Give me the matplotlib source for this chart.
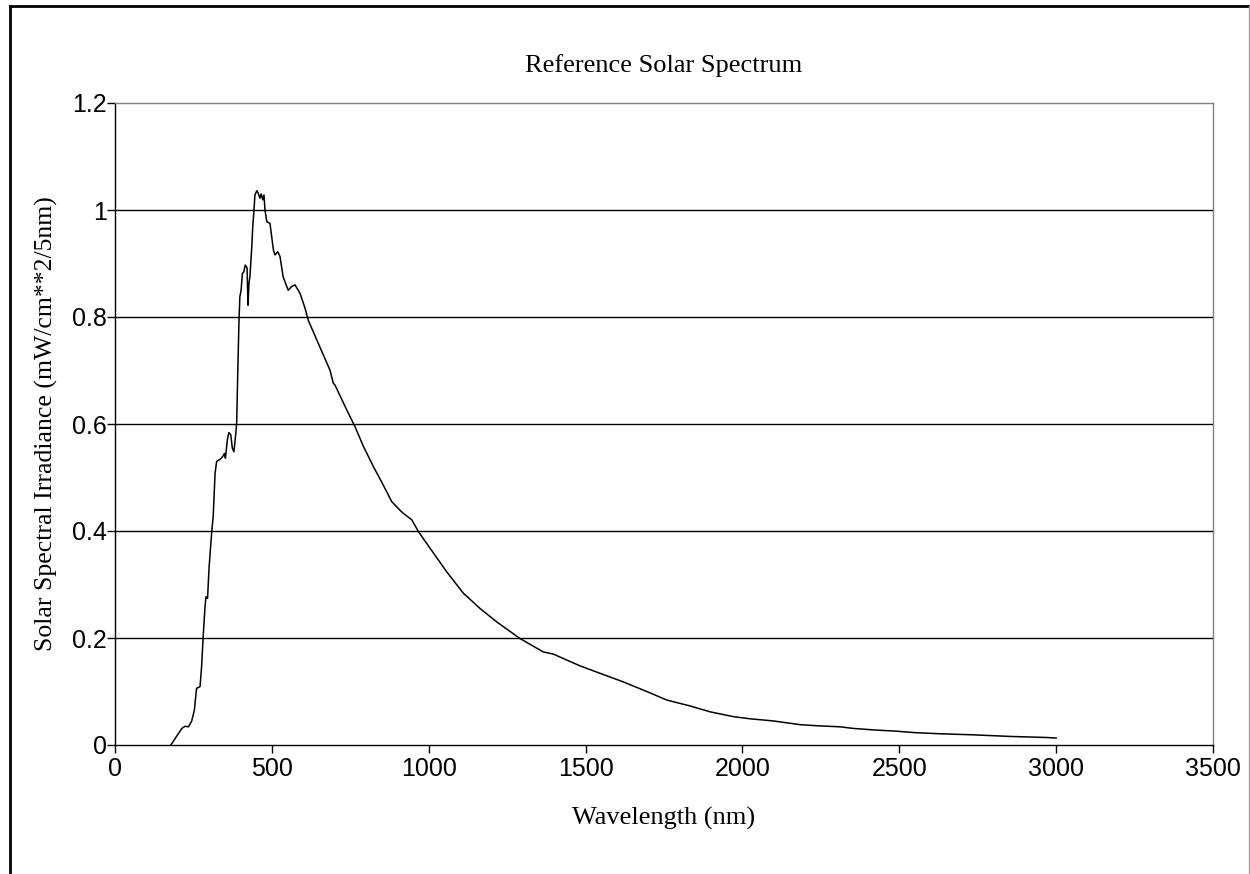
import matplotlib
matplotlib.use('Agg')
import matplotlib.pyplot as plt
from matplotlib.lines import Line2D

# Values (nm, mW/cm**2/5nm)
wavelength = [178, 213, 223, 234, 244, 253, 260, 271, 276, 281, 287, 290, 295,
              300, 308, 313, 319, 324, 335, 343, 349, 352, 358, 363, 369, 374,
              379, 385, 388, 391, 395, 398, 402, 406, 411, 415, 421, 424, 427,
              430, 436, 439, 443, 446, 452, 457, 462, 466, 471, 475, 478, 484,
              494, 505, 510, 519, 526, 536, 552, 563, 574, 590, 606, 616, 653,
              685, 696, 701, 739, 765, 792, 824, 855, 882, 908, 919, 946, 967,
              1004, 1057, 1110, 1164, 1217, 1291, 1365, 1397, 1482, 1546, 1620,
              1695, 1759, 1833, 1897, 1971, 2024, 2098, 2184, 2237, 2311, 2353,
              2423, 2486, 2553, 2630, 2736, 2854, 2971, 3000]
irradiance = [0.000, 0.031, 0.035, 0.034, 0.044, 0.065, 0.106, 0.109, 0.146,
              0.202, 0.259, 0.277, 0.274, 0.333, 0.396, 0.427, 0.508, 0.530,
              0.534, 0.539, 0.545, 0.536, 0.570, 0.584, 0.580, 0.555, 0.548,
              0.582, 0.604, 0.688, 0.788, 0.838, 0.850, 0.881, 0.885, 0.897,
              0.892, 0.822, 0.863, 0.875, 0.931, 0.968, 1.000, 1.028, 1.036,
              1.031, 1.022, 1.030, 1.019, 1.028, 1.000, 0.978, 0.975, 0.925,
              0.916, 0.922, 0.913, 0.875, 0.850, 0.857, 0.860, 0.844, 0.816,
              0.794, 0.744, 0.701, 0.676, 0.673, 0.626, 0.595, 0.558, 0.520,
              0.486, 0.455, 0.439, 0.433, 0.421, 0.399, 0.368, 0.324, 0.284,
              0.255, 0.230, 0.199, 0.174, 0.170, 0.148, 0.134, 0.118, 0.100,
              0.084, 0.073, 0.062, 0.053, 0.049, 0.045, 0.038, 0.036, 0.034,
              0.031, 0.028, 0.026, 0.023, 0.021, 0.019, 0.016, 0.014, 0.013]

x_ticks = [0, 500, 1000, 1500, 2000, 2500, 3000, 3500]
y_ticks = [0, 0.2, 0.4, 0.6, 0.8, 1.0, 1.2]
y_labels = ['0', '0.2', '0.4', '0.6', '0.8', '1', '1.2']

serif = ['Liberation Serif', 'DejaVu Serif']
sans = ['Liberation Sans', 'DejaVu Sans']

fig = plt.figure(figsize=(12.5, 8.74), dpi=100)
ax = fig.add_axes([115 / 1250, 1 - 745 / 874, 1098 / 1250, 642 / 874])

ax.plot(wavelength, irradiance, color='black', linewidth=1.1, zorder=3)

ax.set_xlim(0, 3500)
ax.set_ylim(0, 1.2)
ax.set_xticks(x_ticks)
ax.set_yticks(y_ticks)
ax.set_xticklabels([str(t) for t in x_ticks], family=sans, fontsize=18)
ax.set_yticklabels(y_labels, family=sans, fontsize=18)
ax.tick_params(axis='both', direction='out', length=6, width=1, color='black')
ax.tick_params(axis='y', pad=0)
ax.tick_params(axis='x', pad=3)

# horizontal gridlines, the top one is the gray frame
ax.yaxis.grid(True, color='black', linewidth=1)
ax.get_ygridlines()[-1].set_visible(False)
ax.get_ygridlines()[0].set_visible(False)

for side in ['left', 'bottom']:
    ax.spines[side].set_color('black')
    ax.spines[side].set_linewidth(1)
for side in ['top', 'right']:
    ax.spines[side].set_color('#808080')
    ax.spines[side].set_linewidth(1)

ax.set_title('Reference Solar Spectrum', family=serif, fontsize=19, pad=22)
ax.set_xlabel('Wavelength (nm)', family=serif, fontsize=19, labelpad=18)
ax.set_ylabel('Solar Spectral Irradiance (mW/cm**2/5nm)', family=serif,
              fontsize=18.5, labelpad=10)

# outer chart border (left and top black, right thin gray)
fig.add_artist(Line2D([9.5 / 1250, 9.5 / 1250], [0, 1 - 5.5 / 874],
                      transform=fig.transFigure, color='black', linewidth=2))
fig.add_artist(Line2D([9.5 / 1250, 1249 / 1250], [1 - 5.5 / 874, 1 - 5.5 / 874],
                      transform=fig.transFigure, color='black', linewidth=2))
fig.add_artist(Line2D([1249 / 1250, 1249 / 1250], [0, 1 - 5.5 / 874],
                      transform=fig.transFigure, color='#a0a0a0', linewidth=1))

plt.savefig('out.png', dpi=100)
